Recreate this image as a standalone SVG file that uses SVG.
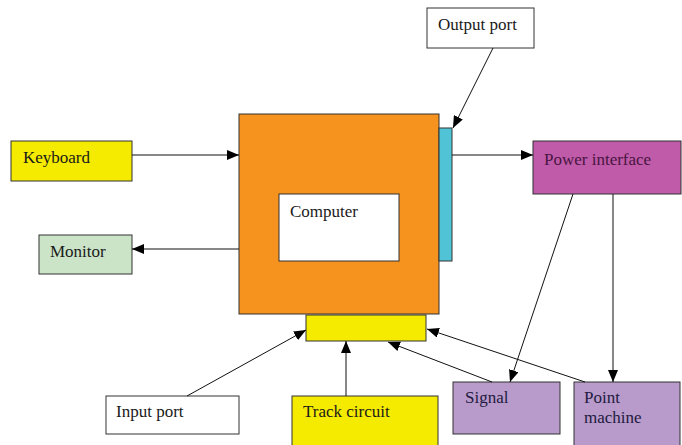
<svg xmlns="http://www.w3.org/2000/svg" width="682" height="445" viewBox="0 0 682 445">
<defs>
<marker id="ah" markerUnits="userSpaceOnUse" markerWidth="12" markerHeight="10" refX="12" refY="5" orient="auto">
<path d="M0,0 L12,5 L0,10 z" fill="#000"/>
</marker>
<style>
.b{stroke:#333;stroke-width:1}
.t{font-family:"Liberation Serif","Times New Roman",serif;font-size:17px;fill:#1a1a1a}
.c line{stroke:#111;stroke-width:1;marker-end:url(#ah)}
</style>
</defs>
<rect width="682" height="445" fill="#fff"/>
<g id="keyboard"><rect class="b" x="11" y="141" width="121" height="40" fill="#f5eb00"/><text class="t" x="23" y="163">Keyboard</text></g>
<g id="monitor"><rect class="b" x="39" y="235" width="93" height="39" fill="#cbe4c8"/><text class="t" x="50" y="257">Monitor</text></g>
<g id="computer-box"><rect class="b" x="239" y="114" width="200" height="200" fill="#f6921e"/></g>
<g id="computer"><rect class="b" x="279" y="194" width="120" height="67" fill="#fff"/><text class="t" x="290" y="217">Computer</text></g>
<g id="output-bar"><rect class="b" x="439" y="128" width="13" height="133" fill="#50c4d6"/></g>
<g id="input-bar"><rect class="b" x="306" y="315" width="120" height="26" fill="#f5eb00"/></g>
<g id="output-port"><rect class="b" x="427" y="8" width="107" height="40" fill="#fff"/><text class="t" x="438" y="30">Output port</text></g>
<g id="power-interface"><rect class="b" x="533" y="141" width="148" height="53" fill="#bf5ba8"/><text class="t" x="544" y="165" style="fill:#4a1542">Power interface</text></g>
<g id="signal"><rect class="b" x="453" y="382" width="107" height="52" fill="#b89bcb"/><text class="t" x="465" y="403" style="fill:#1f1a40">Signal</text></g>
<g id="point-machine"><rect class="b" x="574" y="382" width="106" height="70" fill="#b89bcb"/><text class="t" x="584" y="403" style="fill:#1f1a40">Point</text><text class="t" x="584" y="423" style="fill:#1f1a40">machine</text></g>
<g id="input-port"><rect class="b" x="106" y="396" width="133" height="38" fill="#fff"/><text class="t" x="116" y="417">Input port</text></g>
<g id="track-circuit"><rect class="b" x="292" y="396" width="146" height="60" fill="#f5eb00"/><text class="t" x="303" y="417">Track circuit</text></g>
<g id="connectors" class="c">
<line x1="132" y1="155" x2="239" y2="155"/>
<line x1="239" y1="249" x2="132" y2="249"/>
<line x1="493" y1="48" x2="453" y2="128"/>
<line x1="452" y1="155" x2="533" y2="155"/>
<line x1="573" y1="194" x2="510" y2="382"/>
<line x1="613" y1="194" x2="613" y2="382"/>
<line x1="187" y1="396" x2="306" y2="330"/>
<line x1="346" y1="396" x2="346" y2="341"/>
<line x1="492" y1="382" x2="388" y2="342"/>
<line x1="585" y1="382" x2="427" y2="329"/>
</g>
</svg>
